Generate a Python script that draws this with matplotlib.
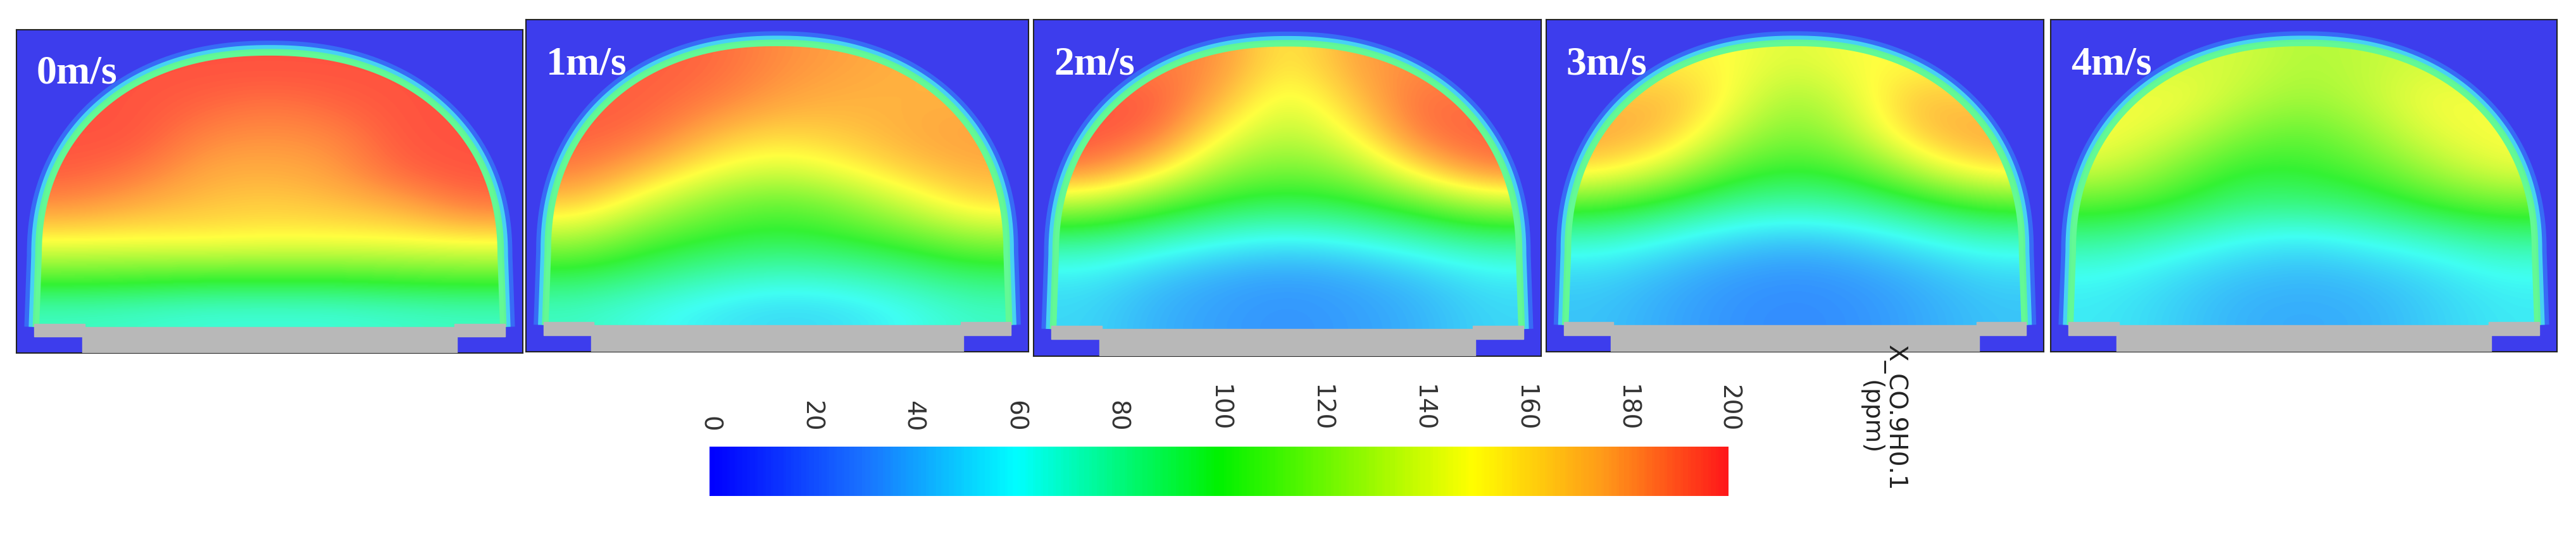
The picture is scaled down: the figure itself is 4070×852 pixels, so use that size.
import numpy as np
import matplotlib
matplotlib.use("Agg")
import matplotlib.pyplot as plt
from matplotlib.colors import LinearSegmentedColormap
from matplotlib.patches import Polygon, Rectangle

labels = ["0m/s", "1m/s", "2m/s", "3m/s", "4m/s"]
ticks = [0, 20, 40, 60, 80, 100, 120, 140, 160, 180, 200]
cbar_label = "X_CO.9H0.1\n(ppm)"

p0 = [[195,195,195,195,195,195,195],
      [195,195,190,185,190,195,195],
      [195,195,180,178,180,195,195],
      [192,185,172,170,175,190,195],
      [178,170,165,162,165,170,185],
      [150,150,152,150,150,150,152],
      [110,108,105,105,105,108,110],
      [70,68,65,65,65,68,70]]
p1 = [[190,192,190,180,175,170,170],
      [192,192,185,175,170,170,170],
      [192,188,170,160,165,172,175],
      [185,170,150,140,150,165,172],
      [165,140,120,110,120,140,160],
      [130,110,100,95,100,110,125],
      [95,85,75,70,72,80,90],
      [70,62,55,50,52,60,70]]
p2 = [[180,185,180,150,175,180,180],
      [192,195,170,140,165,190,185],
      [195,190,150,130,150,188,192],
      [185,160,125,115,125,160,185],
      [130,110,95,90,95,110,130],
      [80,70,60,55,60,70,80],
      [55,45,38,35,38,45,55],
      [50,40,35,32,35,40,50]]
p3 = [[150,155,150,140,150,150,150],
      [165,170,150,125,145,170,160],
      [175,168,135,115,135,168,175],
      [160,140,110,100,110,140,160],
      [110,95,80,75,80,95,110],
      [70,60,50,45,50,60,70],
      [50,42,35,32,35,42,50],
      [45,38,32,30,32,38,45]]
p4 = [[130,140,140,130,135,140,135],
      [145,150,135,125,135,150,145],
      [150,140,120,110,125,145,150],
      [140,120,100,100,110,130,145],
      [110,100,85,85,90,105,115],
      [80,70,60,55,62,70,80],
      [60,52,45,42,45,52,60],
      [55,48,40,38,40,48,55]]
fields = [p0, p1, p2, p3, p4]

cmap = LinearSegmentedColormap.from_list("cfd", [
    (0.0, (0.0, 0.0, 1.0)), (0.15, (0.1, 0.45, 1.0)), (0.3, (0.0, 1.0, 1.0)),
    (0.5, (0.0, 0.95, 0.0)), (0.75, (1.0, 1.0, 0.0)), (0.88, (1.0, 0.6, 0.1)),
    (1.0, (1.0, 0.1, 0.1))])
field_cmap = LinearSegmentedColormap.from_list("cfd2", [
    (0.0, (0.25, 0.3, 0.95)), (0.15, (0.2, 0.55, 1.0)), (0.3, (0.25, 1.0, 0.95)),
    (0.5, (0.2, 0.95, 0.2)), (0.75, (1.0, 1.0, 0.25)), (0.88, (1.0, 0.62, 0.25)),
    (1.0, (1.0, 0.25, 0.25))])

W, H = 4070, 852
fig = plt.figure(figsize=(W/100, H/100), dpi=100)
panels = [(26, 47, 826, 558), (831, 31, 1625, 556), (1633, 31, 2435, 563),
          (2443, 31, 3229, 556), (3240, 31, 4040, 556)]

def tunnel():
    th = np.linspace(0, np.pi, 120)
    c, s = np.cos(th), np.sin(th)
    e = 2.0 / 2.2
    xa = 0.5 + 0.45*np.sign(c)*np.abs(c)**e
    ya = 0.3 + 0.62*np.abs(s)**e
    xs = np.concatenate([[0.955], xa, [0.045]])
    ys = np.concatenate([[0.08], ya, [0.08]])
    return np.column_stack([xs, ys])

for (x0, y0, x1, y1), f, lab in zip(panels, fields, labels):
    ax = fig.add_axes([x0/W, 1-y1/H, (x1-x0)/W, (y1-y0)/H])
    ax.set_xlim(0, 1); ax.set_ylim(0, 1)
    ax.set_facecolor((0.24, 0.24, 0.93))
    for sp in ax.spines.values():
        sp.set_color("#222"); sp.set_linewidth(1.5)
    ax.set_xticks([]); ax.set_yticks([])
    pts = tunnel()
    for lw, col, a in [(34, (0.2, 0.6, 1.0), 0.5), (24, (0.3, 1.0, 0.95), 0.7),
                       (15, (0.4, 1.0, 0.5), 0.8)]:
        ax.plot(pts[:, 0], pts[:, 1], lw=lw, color=col, alpha=a,
                solid_capstyle="butt", solid_joinstyle="round")
    ax.add_patch(Polygon(pts, closed=True, fill=False, lw=10, ec="#b8b8b8"))
    ax.add_patch(Rectangle((0.13, 0.0), 0.74, 0.08, color="#b8b8b8", zorder=3))
    ax.add_patch(Rectangle((0.035, 0.05), 0.1, 0.04, color="#b8b8b8", zorder=3))
    ax.add_patch(Rectangle((0.865, 0.05), 0.1, 0.04, color="#b8b8b8", zorder=3))
    im = ax.imshow(np.array(f, float), cmap=field_cmap, vmin=0, vmax=200,
                   extent=(0.045, 0.955, 0.08, 0.92), interpolation="bicubic",
                   aspect="auto", zorder=2)
    clip = Polygon(pts, closed=True, transform=ax.transData)
    im.set_clip_path(clip)
    ax.text(0.04, 0.92, lab, transform=ax.transAxes, color="white",
            fontsize=46, fontweight="bold", family="Liberation Serif",
            va="top", ha="left", zorder=5)

cax = fig.add_axes([1121/W, 1-784/H, (2731-1121)/W, 78/H])
cax.imshow(np.linspace(0, 200, 400)[None, :], cmap=cmap, aspect="auto",
           extent=(0, 200, 0, 1))
cax.set_yticks([])
cax.set_xticks([])
for sp in cax.spines.values():
    sp.set_visible(False)
for t in ticks:
    cax.text(t, 1.3, str(t), rotation=-90, rotation_mode="anchor",
             ha="right", va="center", fontsize=28, family="DejaVu Sans",
             color="#333")
fig.text(2975/W, 1-660/H, cbar_label, rotation=-90, ha="center", va="center",
         fontsize=28, family="DejaVu Sans", color="#222", linespacing=1.0)
fig.savefig("out.png", dpi=100, facecolor="white")
